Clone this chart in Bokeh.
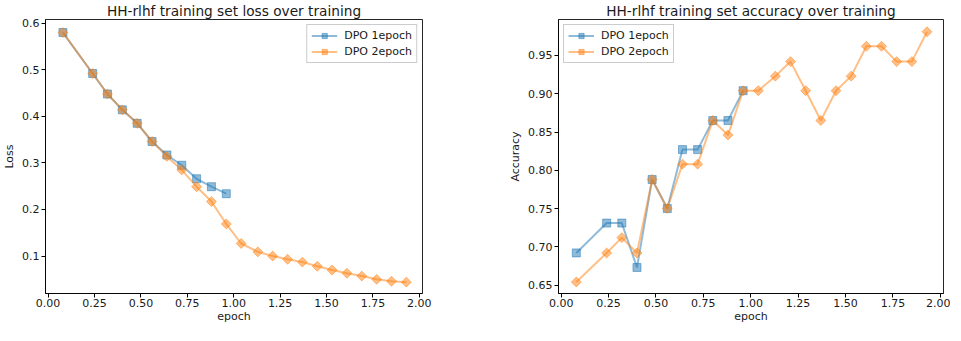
import math
from bokeh.plotting import figure
from bokeh.layouts import row
from bokeh.models import Range1d, FixedTicker, PrintfTickFormatter
from bokeh.embed import file_html
from bokeh.resources import INLINE

# ---------------- data ----------------
epoch_1 = [0.08, 0.24, 0.32, 0.40, 0.48, 0.56, 0.64, 0.72, 0.80, 0.88, 0.96]
epoch_2 = [0.08, 0.24, 0.32, 0.40, 0.48, 0.56, 0.64, 0.72, 0.80, 0.88, 0.96,
           1.04, 1.13, 1.21, 1.29, 1.37, 1.45, 1.53, 1.61, 1.69, 1.77, 1.85, 1.93]

loss_1 = [0.580, 0.492, 0.448, 0.414, 0.385, 0.346, 0.317, 0.295, 0.266, 0.249, 0.234]
loss_2 = [0.580, 0.492, 0.448, 0.414, 0.385, 0.346, 0.314, 0.285, 0.249, 0.217, 0.169,
          0.127, 0.109, 0.100, 0.093, 0.087, 0.078, 0.070, 0.063, 0.057, 0.050, 0.046, 0.044]

acc_1 = [0.692, 0.731, 0.731, 0.673, 0.788, 0.750, 0.827, 0.827, 0.865, 0.865, 0.904]
acc_2 = [0.654, 0.692, 0.712, 0.692, 0.788, 0.750, 0.808, 0.808, 0.865, 0.846, 0.904,
         0.904, 0.923, 0.942, 0.904, 0.865, 0.904, 0.923, 0.962, 0.962, 0.942, 0.942, 0.981]

x_ticks = [0.0, 0.25, 0.5, 0.75, 1.0, 1.25, 1.5, 1.75, 2.0]
loss_ticks = [0.1, 0.2, 0.3, 0.4, 0.5, 0.6]
acc_ticks = [0.65, 0.70, 0.75, 0.80, 0.85, 0.90, 0.95]

series_names = ["DPO 1epoch", "DPO 2epoch"]
titles = ["HH-rlhf training set loss over training",
          "HH-rlhf training set accuracy over training"]
y_labels = ["Loss", "Accuracy"]
x_label = "epoch"

BLUE = "#1f77b4"
ORANGE = "#ff7f0e"
FONT = "DejaVu Sans"
TXT = "#1a1a1a"


def make_fig(width, border_left, border_right, title, ylab, y_start, y_end,
             yticks, yfmt, ys1, ys2, legend_loc):
    p = figure(width=width, height=325, output_backend="svg", toolbar_location=None,
               x_range=Range1d(-0.014, 2.017), y_range=Range1d(y_start, y_end),
               min_border_left=border_left, min_border_right=border_right,
               min_border_top=19, min_border_bottom=0, title=title)
    p.title.align = "center"
    p.title.text_font = FONT
    p.title.text_font_size = "13.7px"
    p.title.text_font_style = "normal"
    p.title.text_color = TXT
    p.title.standoff = 1
    p.title.offset = 0

    p.xgrid.visible = False
    p.ygrid.visible = False
    p.outline_line_color = "black"
    p.outline_line_width = 1
    p.outline_line_alpha = 0.85
    p.background_fill_color = "white"
    p.border_fill_color = "white"

    for ax in (p.xaxis[0], p.yaxis[0]):
        ax.axis_line_color = "black"
        ax.axis_line_alpha = 0.85
        ax.major_tick_line_color = "black"
        ax.major_tick_out = 4
        ax.major_tick_in = 0
        ax.minor_tick_line_color = None
        ax.major_label_text_font = FONT
        ax.major_label_text_font_size = "11px"
        ax.major_label_text_color = TXT
        ax.major_label_standoff = 2
        ax.axis_label_text_font = FONT
        ax.axis_label_text_font_size = "11px"
        ax.axis_label_text_font_style = "normal"
        ax.axis_label_text_color = TXT

    p.xaxis.ticker = FixedTicker(ticks=x_ticks)
    p.xaxis.formatter = PrintfTickFormatter(format="%.2f")
    p.xaxis.axis_label = x_label
    p.xaxis.axis_label_standoff = 0
    p.xaxis.major_label_standoff = 1
    p.yaxis.ticker = FixedTicker(ticks=yticks)
    p.yaxis.formatter = PrintfTickFormatter(format=yfmt)
    p.yaxis.axis_label = ylab
    p.yaxis.axis_label_standoff = 3

    p.line(epoch_1, ys1, line_color=BLUE, line_alpha=0.5, line_width=2,
           legend_label=series_names[0])
    p.scatter(epoch_1, ys1, marker="square", size=8, fill_color=BLUE, line_color=BLUE,
              fill_alpha=0.5, line_alpha=0.5, legend_label=series_names[0])
    p.line(epoch_2, ys2, line_color=ORANGE, line_alpha=0.5, line_width=2,
           legend_label=series_names[1])
    p.scatter(epoch_2, ys2, marker="square", angle=math.pi / 4, size=7,
              fill_color=ORANGE, line_color=ORANGE,
              fill_alpha=0.5, line_alpha=0.5, legend_label=series_names[1])

    lg = p.legend[0]
    lg.location = legend_loc
    lg.margin = 5
    lg.padding = 4
    lg.spacing = 3
    lg.label_standoff = 7
    lg.glyph_width = 26
    lg.glyph_height = 13
    lg.label_text_font = FONT
    lg.label_text_font_size = "11px"
    lg.label_text_color = TXT
    lg.label_height = 13
    lg.border_line_color = "#cccccc"
    lg.border_line_alpha = 1.0
    lg.background_fill_alpha = 0.8
    return p


p1 = make_fig(472, 39, 50, titles[0], y_labels[0], 0.0196, 0.608,
              loss_ticks, "%.1f", loss_1, loss_2, "top_right")
p2 = make_fig(478, 86, 7, titles[1], y_labels[1], 0.639, 0.997,
              acc_ticks, "%.2f", acc_1, acc_2, "top_left")

layout = row(p1, p2)
open("out.html", "w").write(file_html(layout, INLINE))
